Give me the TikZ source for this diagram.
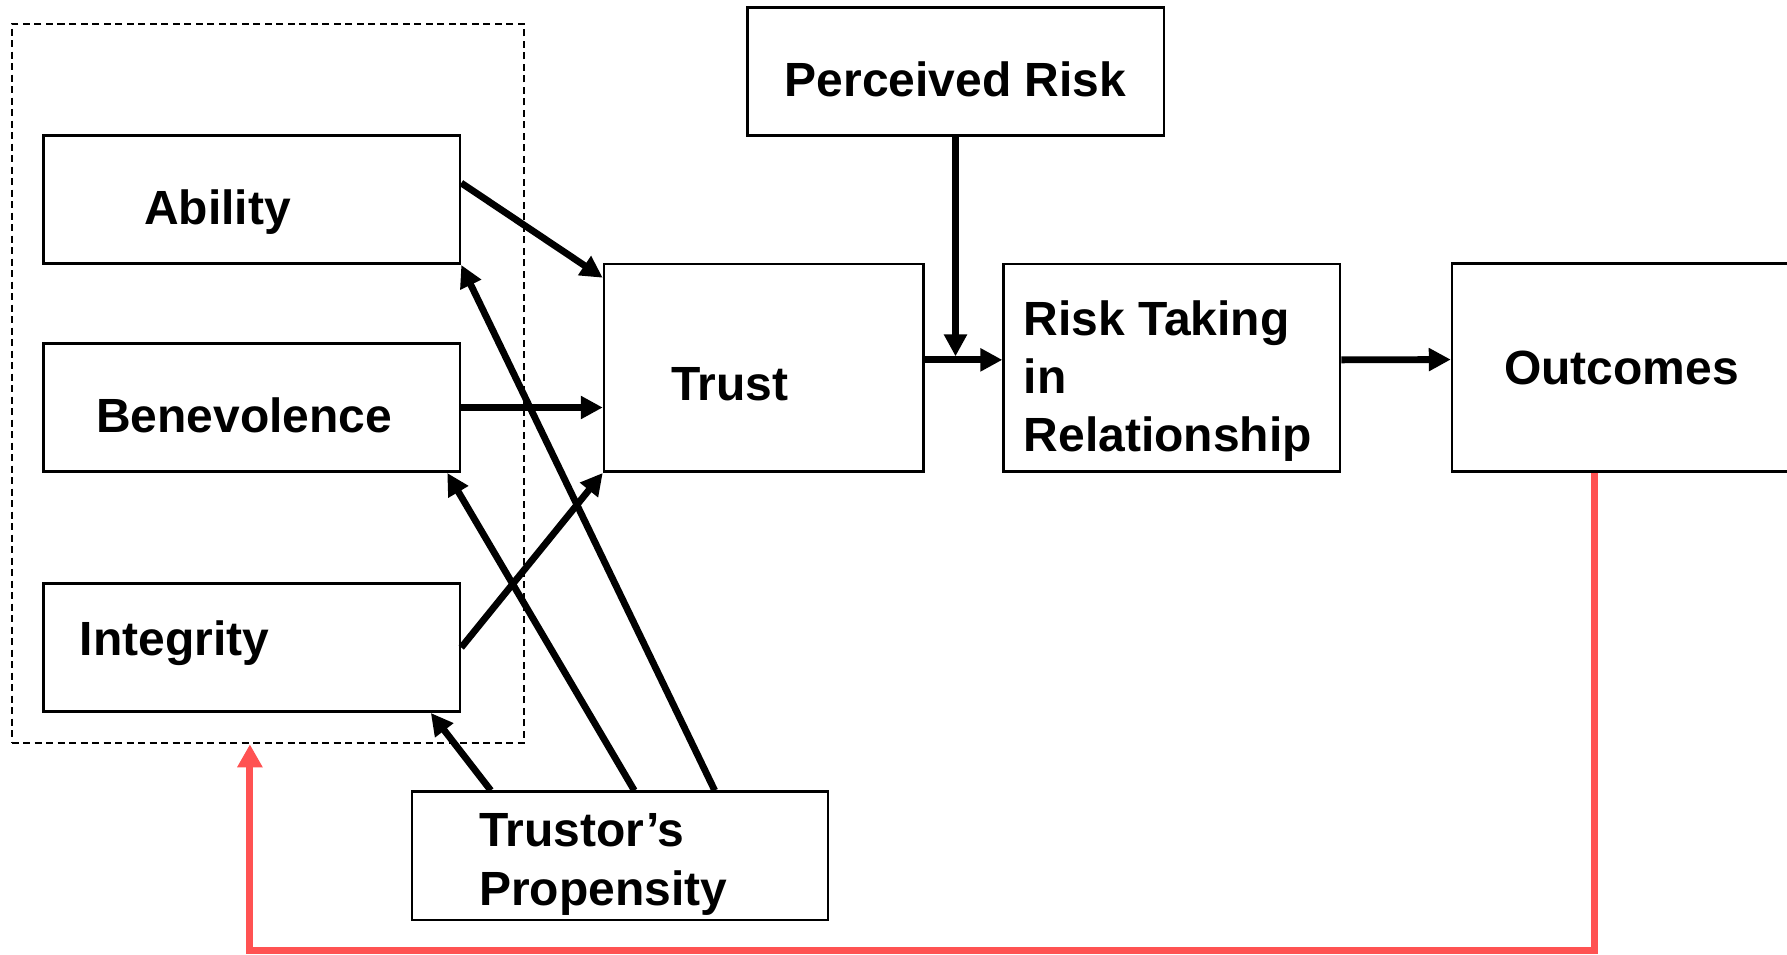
\documentclass[tikz,border=0pt]{standalone}
\usepackage{fontspec}
\setmainfont{Liberation Sans}
\usetikzlibrary{arrows.meta,calc}
\definecolor{fbred}{RGB}{255,82,82}
\begin{document}
\begin{tikzpicture}[x=1pt,y=-1pt,
  box/.style={draw=black,line width=2.5pt,inner sep=0pt},
  grpbox/.style={draw=black,line width=2pt,dash pattern=on 7pt off 4.5pt,inner sep=0pt},
  lbl/.style={font=\fontsize{48}{58}\selectfont\bfseries,inner sep=0pt,anchor=base west},
  arr/.style={line width=6.8pt,-{Triangle[length=22pt,width=22pt]}},
  fb/.style={line width=7pt,draw=fbred,-{Triangle[length=23pt,width=24pt]}}
]
\useasboundingbox (0,0) rectangle (1787,954);
\clip (0,0) rectangle (1787,954);
\fill[white] (0,0) rectangle (1787,954);

% boxes
\node[grpbox,minimum width=512.1pt,minimum height=719.3pt] (grp) at (267.55,383.65) {};
\node[box,minimum width=416.5pt,minimum height=128pt] (abil) at (251.75,199.7) {};
\node[box,minimum width=416.5pt,minimum height=128.4pt] (benev) at (251.75,407.5) {};
\node[box,minimum width=416.5pt,minimum height=128.4pt] (integ) at (251.75,647.5) {};
\node[box,minimum width=319.7pt,minimum height=207.7pt] (trust) at (763.85,367.85) {};
\node[box,minimum width=416.5pt,minimum height=128.4pt] (prisk) at (955.5,71.5) {};
\node[box,minimum width=336.4pt,minimum height=207.7pt] (risk) at (1171.8,367.85) {};
\node[box,minimum width=348pt,minimum height=208.1pt] (outc) at (1626,367.55) {};
\node[box,minimum width=415.6pt,minimum height=128.3pt] (prop) at (620,855.85) {};

% texts
\node[lbl] (tabil) at (144,224.5) {Ability};
\node[lbl] (tbenev) at (96,432.3) {Benevolence};
\node[lbl] (tinteg) at (79.5,655) {Integrity};
\node[lbl] (ttrust) at (671,400) {Trust};
\node[lbl] (tprisk) at (784.5,96.7) {Perceived Risk};
\node[lbl] (trisk) at (1023.5,335) {\vtop{\baselineskip=58pt\hbox{Risk Taking}\hbox{in}\hbox{Relationship}}};
\node[lbl] (toutc) at (1504,384) {Outcomes};
\node[lbl] (tprop) at (479,846.7) {\vtop{\baselineskip=58.3pt\hbox{Trustor’s}\hbox{Propensity}}};

% connectors
\draw[arr] ($(abil.east)+(0,-16.7)$) -- ($(trust.north west)+(0,15)$);
\draw[arr] (benev.east) -- (benev.east -| trust.west);
\draw[arr] (integ.east) -- (trust.south west);
\draw[arr] ($(prop.north)+(94.7,0)$) -- (abil.south east);
\draw[arr] ($(prop.north)+(14.3,0)$) -- ($(benev.south east)+(-14,0)$);
\draw[arr] ($(prop.north)+(-129.2,0)$) -- ($(integ.south east)+(-30.4,0)$);
\coordinate (jn) at ($(prisk.south |- trust.east)+(0,-11.5)$);
\draw[arr] (prisk.south) -- (jn);
\draw[arr] ($(trust.east)+(0,-8)$) -- ($(risk.west)+(0,-8)$);
\draw[arr] ($(risk.east)+(0,-8)$) -- ($(outc.west)+(0,-8)$);

% feedback
\coordinate (gtip) at ($(grp.south west)+(239.4,0)$);
\coordinate (fbk) at (0,950);
\draw[fb] ($(outc.south west)+(144,0)$) |- (gtip |- fbk) -- (gtip);
\end{tikzpicture}
\end{document}
